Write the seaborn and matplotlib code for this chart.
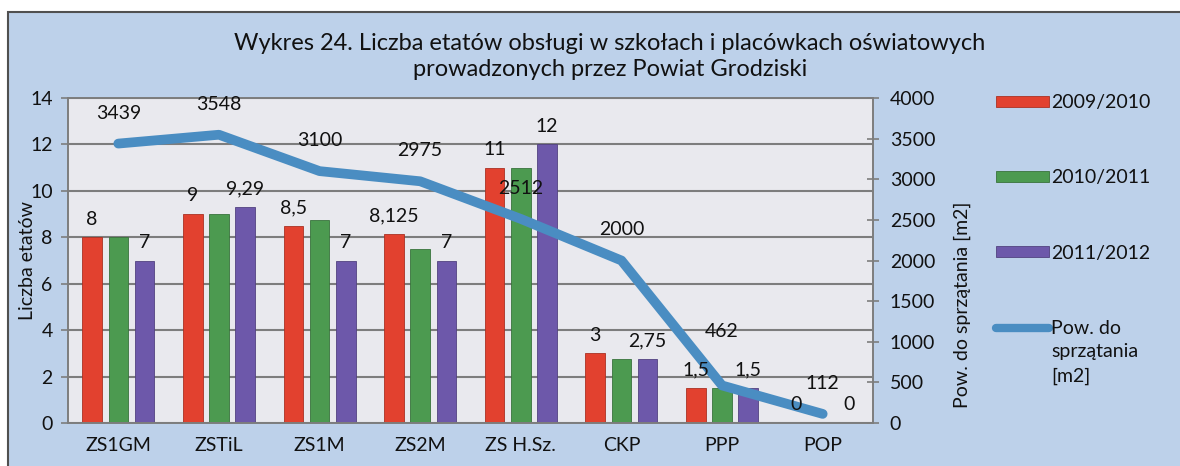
import numpy as np
import pandas as pd
import matplotlib
matplotlib.use("Agg")
import matplotlib.pyplot as plt
import matplotlib.colors as mcolors
from matplotlib.patches import Patch, Rectangle
from matplotlib.lines import Line2D
import seaborn as sns

categories = ["ZS1GM", "ZSTiL", "ZS1M", "ZS2M", "ZS H.Sz.", "CKP", "PPP", "POP"]
years = ["2009/2010", "2010/2011", "2011/2012"]
etaty_2009 = [8, 9, 8.5, 8.125, 11, 3, 1.5, 0]
etaty_2010 = [8, 9, 8.75, 7.5, 11, 2.75, 1.5, 0]
etaty_2011 = [7, 9.29, 7, 7, 12, 2.75, 1.5, 0]
powierzchnia = [3439, 3548, 3100, 2975, 2512, 2000, 462, 112]

bar_colors = ["#e2412f", "#4c9a50", "#6d58aa"]
line_color = "#4a8dc2"
bg_color = "#bdd1ea"
plot_bg = "#e9e9ee"
grid_color = "#7d7d7d"
text_color = "#111111"
FS = 14
W, H = 1180, 466


def fmt_pl(v):
    # polish decimal comma
    return f"{v:g}".replace(".", ",")


def darker(c, f=0.75):
    return tuple(x * f for x in mcolors.to_rgb(c))


sns.set_style("white")
plt.rcParams["font.family"] = ["Lato", "DejaVu Sans"]
plt.rcParams["text.color"] = text_color
plt.rcParams["axes.labelcolor"] = text_color
plt.rcParams["xtick.color"] = text_color
plt.rcParams["ytick.color"] = text_color

df = pd.DataFrame({
    "kategoria": categories * 3,
    "rok": np.repeat(years, len(categories)),
    "etaty": etaty_2009 + etaty_2010 + etaty_2011,
})

fig = plt.figure(figsize=(W / 100, H / 100), dpi=100)
fig.patch.set_facecolor("white")
fig.add_artist(Rectangle((8 / W, -0.05), 1.0, (H - 12) / H + 0.05,
                         transform=fig.transFigure, facecolor=bg_color,
                         edgecolor="#505050", lw=1.5, zorder=-10))

ax = fig.add_axes([68 / W, 43 / H, 805 / W, 325 / H])
ax.set_facecolor(plot_bg)

sns.barplot(data=df, x="kategoria", y="etaty", hue="rok", palette=bar_colors,
            width=0.78, gap=0.25, saturation=1, legend=False, ax=ax)
for cont, col in zip(ax.containers, bar_colors):
    for p in cont:
        p.set_edgecolor(darker(col))
        p.set_linewidth(0.6)

ax.set_ylim(0, 14)
ax.set_xlim(-0.5, len(categories) - 0.5)
ax.set_yticks(range(0, 15, 2))
ax.yaxis.grid(True, color=grid_color, lw=1.5)
ax.set_axisbelow(True)
ax.set_xticks(np.arange(-0.5, len(categories), 1), minor=True)
ax.tick_params(axis="x", which="major", length=0, labelsize=FS, pad=10)
ax.tick_params(axis="x", which="minor", length=5, color=grid_color, width=1.2)
ax.tick_params(axis="y", length=5, color=grid_color, width=1.2, labelsize=FS, pad=6)
ax.set_xlabel("")
ax.set_ylabel("Liczba etatów", fontsize=FS)
ax.yaxis.set_label_coords(-0.04, 0.5)
for s in ax.spines.values():
    s.set_color(grid_color)
    s.set_linewidth(1.2)

ax2 = ax.twinx()
sns.lineplot(x=np.arange(len(categories)), y=powierzchnia, ax=ax2,
             color=line_color, lw=7, solid_capstyle="round",
             solid_joinstyle="round")
for i, v in enumerate(powierzchnia):
    off = 39 if categories[i] == "PPP" else 22
    ax2.annotate(str(v), (i, v), xytext=(0, off), textcoords="offset points",
                 ha="center", va="center", fontsize=FS)

# bar labels (first and last season only), drawn on top of the line
for idx, vals in [(0, etaty_2009), (2, etaty_2011)]:
    for p, v in zip(ax.containers[idx], vals):
        ax2.annotate(fmt_pl(v), (p.get_x() + p.get_width() / 2, p.get_height()),
                     xycoords=ax.transData, xytext=(0, 7),
                     textcoords="offset points", ha="center", va="bottom",
                     fontsize=FS)

ax2.set_ylim(0, 4000)
ax2.set_yticks(range(0, 4001, 500))
ax2.tick_params(axis="y", direction="inout", length=8, color=grid_color,
                width=1.2, labelsize=FS, pad=8)
ax2.set_ylabel("Pow. do sprzątania [m2]", fontsize=FS)
ax2.yaxis.set_label_coords(1.1, 0.363)
for s in ax2.spines.values():
    s.set_color(grid_color)
    s.set_linewidth(1.2)

fig.text(0.517, 0.878,
         "Wykres 24. Liczba etatów obsługi w szkołach i placówkach oświatowych\n"
         "prowadzonych przez Powiat Grodziski",
         ha="center", va="center", fontsize=17, linespacing=1.3)

handles = [Patch(facecolor=c, edgecolor=darker(c), lw=0.6) for c in bar_colors]
handles.append(Line2D([0], [0], color=line_color, lw=6, solid_capstyle="round"))
leg = fig.legend(handles=handles, labels=years + ["Pow. do"], loc="upper left",
                 bbox_to_anchor=(996 / W, 1 - 94 / H), frameon=False,
                 handlelength=2.75, handleheight=0.5, handletextpad=0.1,
                 labelspacing=3.0, fontsize=FS, borderpad=0, borderaxespad=0)

fig.canvas.draw()
bb = leg.get_texts()[3].get_window_extent()
fig.text(bb.x0 / W, bb.y0 / H - 0.012, "sprzątania\n[m2]", ha="left", va="top",
         fontsize=FS, linespacing=1.55)

fig.savefig("out.png", dpi=100, facecolor=fig.get_facecolor())
